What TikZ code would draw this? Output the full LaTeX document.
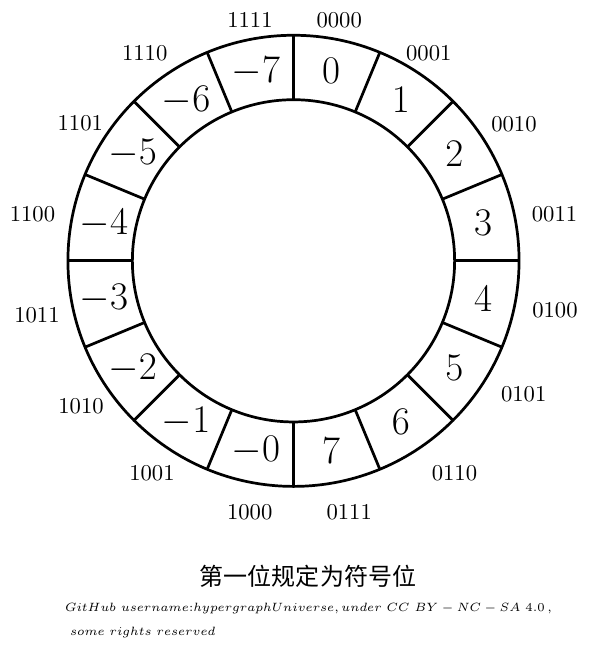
\documentclass[tikz,border=0pt]{standalone}
\usepackage{fontspec}
\newfontfamily\cjk{Noto Sans CJK SC}
\begin{document}
\begin{tikzpicture}[
  ring/.style={line width=1.2pt},
  num/.style={font=\LARGE},
  bin/.style={font=\normalsize},
]
\useasboundingbox (-4.554,-6.054) rectangle (4.585,4.047);
\draw[ring] (0,0) circle (3.5);
\draw[ring] (0,0) circle (2.5);
\foreach \k in {0,...,15} \draw[ring] ({90-22.5*\k}:2.5) -- ({90-22.5*\k}:3.5);
\foreach \v/\b/\x/\y [count=\i from 0, evaluate=\i as \ang using 78.75-22.5*\i] in
  {0/0000/0.709/3.732, 1/0001/2.099/3.227, 2/0010/3.421/2.126, 3/0011/4.050/0.718,
   4/0100/4.057/-0.771, 5/0101/3.572/-2.062, 6/0110/2.498/-3.292, 7/0111/0.864/-3.893,
   -0/1000/-0.680/-3.893, -1/1001/-2.196/-3.297, -2/1010/-3.297/-2.250, -3/1011/-3.980/-0.841,
   -4/1100/-4.050/0.723, -5/1101/-3.308/2.138, -6/1110/-2.309/3.227, -7/1111/-0.675/3.732} {
  \node[num] (n\i) at (\ang:3) {$\v$};
  \node[bin] (b\i) at (\x,\y) {\b};
}
\node (cap) at (0.225,-4.89) {\cjk\fontsize{10.6}{13}\selectfont 第一位规定为符号位};
\node[anchor=west, align=left, font=\fontsize{6}{12.4}\selectfont, inner sep=0pt, scale=0.885, transform shape] (credit) at (-3.55,-5.58)
  {$GitHub\ username{:}hypergraphUniverse,under\ CC\ BY-NC-SA\ 4.0\,,$\\
   \ $some\ rights\ reserved$};
\end{tikzpicture}
\end{document}
